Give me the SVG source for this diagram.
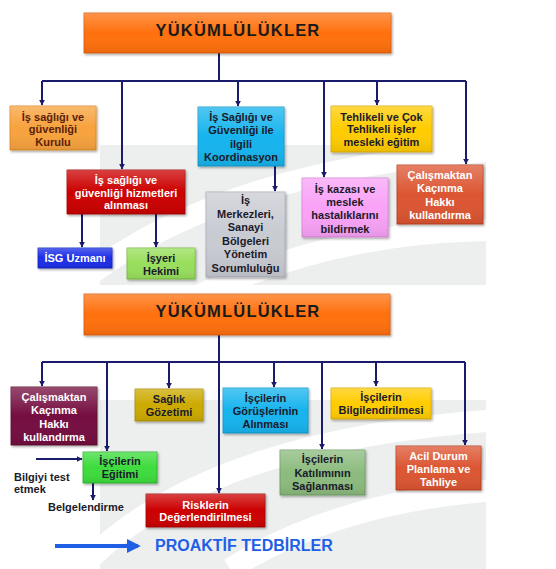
<svg xmlns="http://www.w3.org/2000/svg" width="556" height="569" viewBox="0 0 556 569">
<defs>
<style>
.bx{stroke-width:0.8;filter:url(#sh)}
.t{font-family:"Liberation Sans",Arial,sans-serif;font-weight:bold;font-size:11px;text-anchor:middle;fill:#1a1a2a}
.w{fill:#ffffff}
.br{fill:#5a1e0a}
.ttl{font-family:"Liberation Sans",Arial,sans-serif;font-weight:bold;font-size:16.5px;letter-spacing:1.2px;text-anchor:middle;fill:#1a1a1a}
.c{fill:none;stroke:#1B1B6B;stroke-width:2}
.ca{fill:none;stroke:#1B1B6B;stroke-width:2;marker-end:url(#ah)}
.wm{fill:#EDEEEE}
.wa{fill:none;stroke:#ffffff;stroke-width:22}
</style>
<marker id="ah" viewBox="0 0 10 10" refX="9" refY="5" markerWidth="3" markerHeight="3" orient="auto" markerUnits="strokeWidth"><path d="M0 0L10 5L0 10z" fill="#1B1B6B"/></marker>
<marker id="bh" viewBox="0 0 10 10" refX="8" refY="5" markerWidth="3.5" markerHeight="3.5" orient="auto" markerUnits="strokeWidth"><path d="M0 0L10 5L0 10z" fill="#1E5FE6"/></marker>
<filter id="sh" x="-10%" y="-10%" width="130%" height="130%"><feDropShadow dx="1.2" dy="1.5" stdDeviation="1" flood-color="#000" flood-opacity="0.35"/></filter>
<linearGradient id="gl" x1="0" y1="0" x2="0" y2="1"><stop offset="0" stop-color="#fff" stop-opacity="0.25"/><stop offset="0.5" stop-color="#fff" stop-opacity="0"/><stop offset="1" stop-color="#000" stop-opacity="0.08"/></linearGradient>
</defs>
<rect width="556" height="569" fill="#ffffff"/>
<g id="watermark">
<rect class="wm" x="100" y="145" width="386" height="140"/>
<rect class="wm" x="100" y="400" width="386" height="169"/>
<path class="wa" d="M60 300 Q200 170 500 150"/>
<path class="wa" d="M190 300 Q330 230 500 230"/>
<path class="wa" d="M80 569 Q200 440 500 420"/>
<path class="wa" d="M230 569 Q340 500 500 490"/>
<rect x="0" y="285" width="556" height="115" fill="#fff"/>
</g>
<g id="connectors">
<path class="c" d="M219 53V81M42 81H466"/>
<path class="ca" d="M42 81V105"/>
<path class="ca" d="M122 81V169"/>
<path class="ca" d="M238 81V106"/>
<path class="ca" d="M324 81V177"/>
<path class="ca" d="M377 81V105"/>
<path class="ca" d="M466 81V164"/>
<path class="ca" d="M275 166V191"/>
<path class="ca" d="M82 214V247"/>
<path class="ca" d="M156 214V247"/>
<path class="c" d="M219 335V362M42 362H465"/>
<path class="ca" d="M42 362V386"/>
<path class="ca" d="M107 362V451"/>
<path class="ca" d="M169 362V388"/>
<path class="ca" d="M219 362V493"/>
<path class="ca" d="M274 362V387"/>
<path class="ca" d="M322 362V449"/>
<path class="ca" d="M376 362V386"/>
<path class="ca" d="M465 362V445"/>
<path class="ca" d="M36 459H82"/>
<path class="ca" d="M93 483V500"/>
<path d="M55 546H138" fill="none" stroke="#1E5FE6" stroke-width="4" marker-end="url(#bh)"/>
</g>
<g id="title1"><rect class="bx" x="84" y="13" width="307" height="40" fill="#FF6F0F" stroke="#D85A00"/><rect x="84" y="13" width="307" height="40" fill="url(#gl)"/><text class="ttl" x="238" y="36">YÜKÜMLÜLÜKLER</text></g>
<g id="kurul"><rect class="bx" x="10" y="106" width="86" height="44" fill="#F7A23C" stroke="#D98520"/><rect x="10" y="106" width="86" height="44" fill="url(#gl)"/><text class="t br" x="53" y="120.5">İş sağlığı ve</text><text class="t br" x="53" y="133">güvenliği</text><text class="t br" x="53" y="146">Kurulu</text></g>
<g id="koord"><rect class="bx" x="198" y="107" width="86" height="59" fill="#18B4EE" stroke="#0E95C8"/><rect x="198" y="107" width="86" height="59" fill="url(#gl)"/><text class="t" x="241" y="120.5">İş Sağlığı ve</text><text class="t" x="241" y="134">Güvenliği ile</text><text class="t" x="241" y="147.5">ilgili</text><text class="t" x="241" y="160.5">Koordinasyon</text></g>
<g id="tehlikeli"><rect class="bx" x="331" y="106" width="101" height="46" fill="#FFCC00" stroke="#D9A800"/><rect x="331" y="106" width="101" height="46" fill="url(#gl)"/><text class="t" x="381.5" y="120.5">Tehlikeli ve Çok</text><text class="t" x="381.5" y="133">Tehlikeli işler</text><text class="t" x="381.5" y="146">mesleki eğitim</text></g>
<g id="hizmet"><rect class="bx" x="67" y="170" width="118" height="44" fill="#CC0000" stroke="#A00000"/><rect x="67" y="170" width="118" height="44" fill="url(#gl)"/><text class="t w" x="126" y="183.5">İş sağlığı ve</text><text class="t w" x="126" y="196.5">güvenliği hizmetleri</text><text class="t w" x="126" y="209">alınması</text></g>
<g id="merkez"><rect class="bx" x="206" y="192" width="79" height="85" fill="#C9CBD3" stroke="#A5A8B2"/><rect x="206" y="192" width="79" height="85" fill="url(#gl)"/><text class="t" x="245.5" y="204">İş</text><text class="t" x="245.5" y="217.5">Merkezleri,</text><text class="t" x="245.5" y="231">Sanayi</text><text class="t" x="245.5" y="244.5">Bölgeleri</text><text class="t" x="245.5" y="258">Yönetim</text><text class="t" x="245.5" y="271.5">Sorumluluğu</text></g>
<g id="kaza"><rect class="bx" x="302" y="178" width="86" height="59" fill="#F9A2F7" stroke="#D680D4"/><rect x="302" y="178" width="86" height="59" fill="url(#gl)"/><text class="t" x="345" y="192.5">İş kazası ve</text><text class="t" x="345" y="206">meslek</text><text class="t" x="345" y="219">hastalıklarını</text><text class="t" x="345" y="232.5">bildirmek</text></g>
<g id="kacinma1"><rect class="bx" x="397" y="165" width="86" height="59" fill="#DC5430" stroke="#B33A1A"/><rect x="397" y="165" width="86" height="59" fill="url(#gl)"/><text class="t w" x="440" y="179">Çalışmaktan</text><text class="t w" x="440" y="192">Kaçınma</text><text class="t w" x="440" y="205.5">Hakkı</text><text class="t w" x="440" y="218.5">kullandırma</text></g>
<g id="isg"><rect class="bx" x="38" y="248" width="74" height="20" fill="#1A2FE8" stroke="#1020B8"/><rect x="38" y="248" width="74" height="20" fill="url(#gl)"/><text class="t w" x="75" y="262">İSG Uzmanı</text></g>
<g id="hekim"><rect class="bx" x="127" y="248" width="68" height="31" fill="#98DE5C" stroke="#74B83A"/><rect x="127" y="248" width="68" height="31" fill="url(#gl)"/><text class="t" x="161" y="261.5">İşyeri</text><text class="t" x="161" y="274.5">Hekimi</text></g>
<g id="title2"><rect class="bx" x="84" y="294" width="306" height="41" fill="#FF6F0F" stroke="#D85A00"/><rect x="84" y="294" width="306" height="41" fill="url(#gl)"/><text class="ttl" x="238" y="317">YÜKÜMLÜLÜKLER</text></g>
<g id="kacinma2"><rect class="bx" x="11" y="387" width="86" height="58" fill="#74103F" stroke="#55082C"/><rect x="11" y="387" width="86" height="58" fill="url(#gl)"/><text class="t w" x="54" y="401">Çalışmaktan</text><text class="t w" x="54" y="414">Kaçınma</text><text class="t w" x="54" y="427.5">Hakkı</text><text class="t w" x="54" y="440.5">kullandırma</text></g>
<g id="saglik"><rect class="bx" x="135" y="389" width="68" height="32" fill="#CCAA00" stroke="#A88C00"/><rect x="135" y="389" width="68" height="32" fill="url(#gl)"/><text class="t" x="169" y="402.5">Sağlık</text><text class="t" x="169" y="415.5">Gözetimi</text></g>
<g id="gorus"><rect class="bx" x="223" y="388" width="85" height="45" fill="#18B4EE" stroke="#0E95C8"/><rect x="223" y="388" width="85" height="45" fill="url(#gl)"/><text class="t" x="265.5" y="401.5">İşçilerin</text><text class="t" x="265.5" y="415">Görüşlerinin</text><text class="t" x="265.5" y="428">Alınması</text></g>
<g id="bilgi"><rect class="bx" x="331" y="388" width="100" height="31" fill="#FFCC00" stroke="#D9A800"/><rect x="331" y="388" width="100" height="31" fill="url(#gl)"/><text class="t" x="381" y="400.5">İşçilerin</text><text class="t" x="381" y="414">Bilgilendirilmesi</text></g>
<g id="egitim"><rect class="bx" x="83" y="452" width="74" height="31" fill="#3DDC3D" stroke="#22B022"/><rect x="83" y="452" width="74" height="31" fill="url(#gl)"/><text class="t" x="120" y="465">İşçilerin</text><text class="t" x="120" y="478">Eğitimi</text></g>
<g id="risk"><rect class="bx" x="146" y="494" width="119" height="33" fill="#CC0000" stroke="#A00000"/><rect x="146" y="494" width="119" height="33" fill="url(#gl)"/><text class="t w" x="205.5" y="508.5">Risklerin</text><text class="t w" x="205.5" y="521">Değerlendirilmesi</text></g>
<g id="katilim"><rect class="bx" x="280" y="450" width="85" height="45" fill="#8CBB7E" stroke="#6A9A5C"/><rect x="280" y="450" width="85" height="45" fill="url(#gl)"/><text class="t" x="322.5" y="463">İşçilerin</text><text class="t" x="322.5" y="476.5">Katılımının</text><text class="t" x="322.5" y="490">Sağlanması</text></g>
<g id="acil"><rect class="bx" x="396" y="446" width="85" height="44" fill="#DC5430" stroke="#B33A1A"/><rect x="396" y="446" width="85" height="44" fill="url(#gl)"/><text class="t w" x="438.5" y="460">Acil Durum</text><text class="t w" x="438.5" y="473">Planlama ve</text><text class="t w" x="438.5" y="486">Tahliye</text></g>
<g id="labels">
<text class="t" x="14" y="481" style="text-anchor:start">Bilgiyi test</text>
<text class="t" x="14" y="493" style="text-anchor:start">etmek</text>
<text class="t" x="48" y="511" style="text-anchor:start">Belgelendirme</text>
<text x="155" y="551" style="font-family:'Liberation Sans',Arial,sans-serif;font-weight:bold;font-size:16px;fill:#1E5FE6">PROAKTİF TEDBİRLER</text>
</g>
</svg>
